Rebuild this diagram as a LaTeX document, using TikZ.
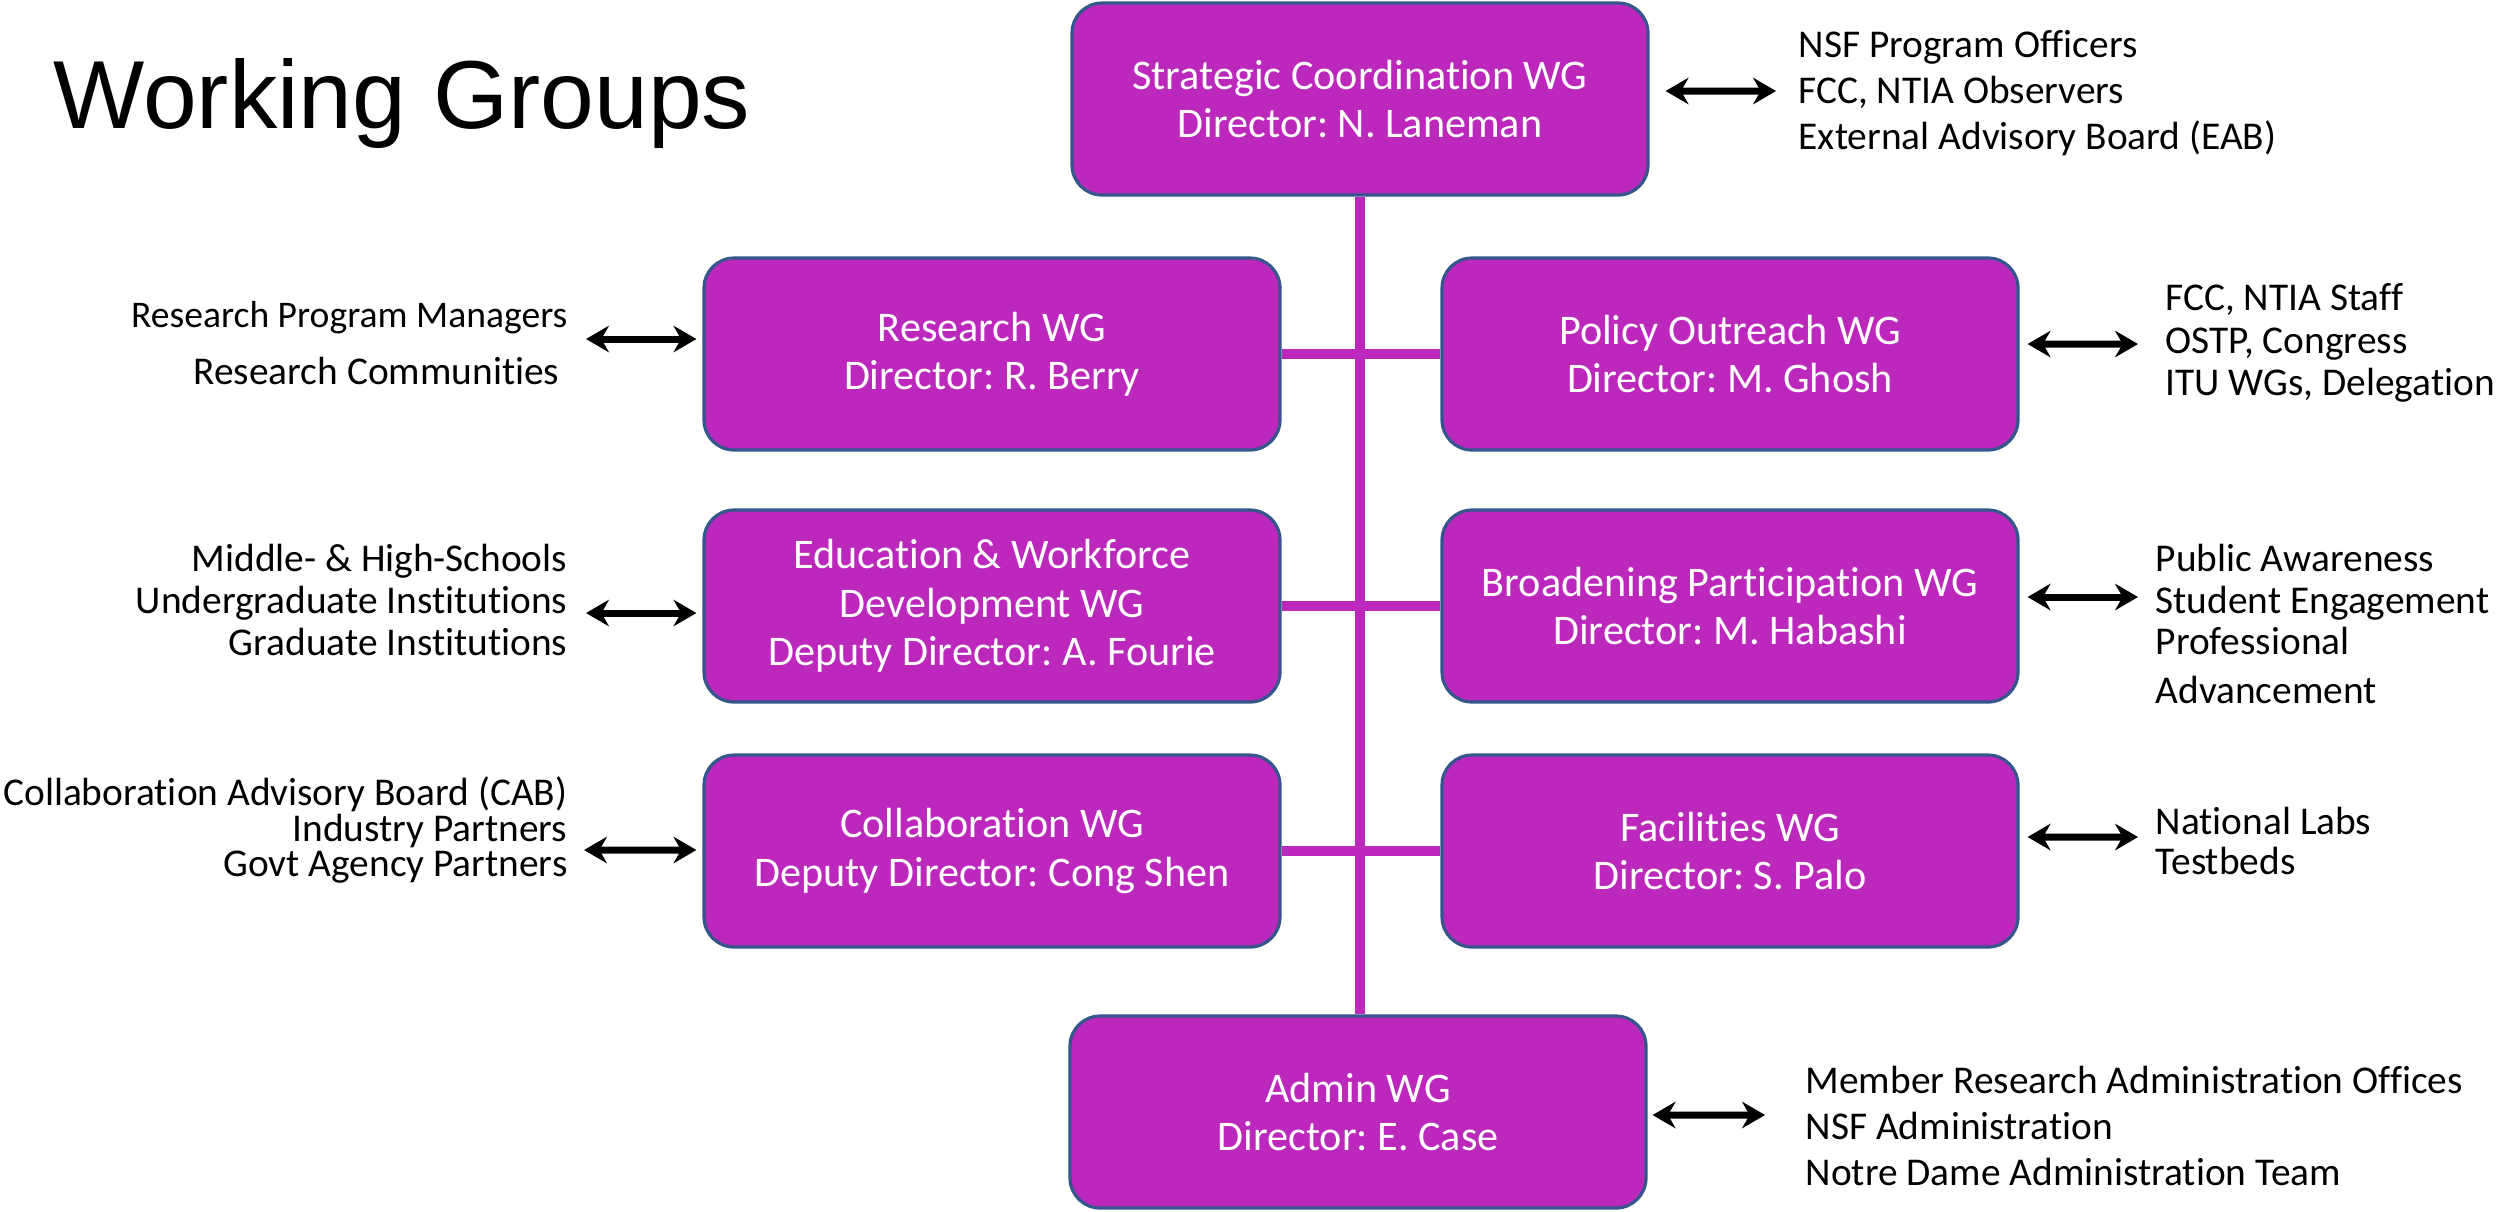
\documentclass[tikz,border=0pt]{standalone}
\usepackage{fontspec}
\setmainfont{Carlito}[Ligatures=NoCommon]
\newfontfamily\titlefont{Liberation Sans}
\usetikzlibrary{arrows.meta}
\definecolor{wgfill}{RGB}{188,40,188}
\definecolor{wgedge}{RGB}{52,86,140}
\frenchspacing

\begin{document}
\begin{tikzpicture}[
    >=Stealth,
    wg/.style={
        rectangle,
        rounded corners=0.3cm,
        draw=wgedge,
        line width=0.9pt,
        fill=wgfill,
        text=white,
        minimum width=5.76cm,
        minimum height=1.92cm,
        align=center,
        font=\fontsize{12}{13.8}\selectfont
    },
    info/.style={
        inner sep=0pt,
        font=\fontsize{11.2}{#1}\selectfont
    },
    link/.style={
        {Stealth[length=6.5pt,width=7.5pt]}-{Stealth[length=6.5pt,width=7.5pt]},
        line width=2pt,
        black
    },
    trunk/.style={
        line width=2.8pt,
        wgfill
    }
]

    \useasboundingbox (0,0) rectangle (25.09,-12.11);

    \node[
        anchor=base west,
        inner sep=0pt,
        font=\titlefont\fontsize{27.5}{33}\selectfont
    ] (title) at (0.53,-1.28) {Working Groups};

    \node[wg] (strat) at (13.60,-0.99) {Strategic Coordination WG\\Director: N. Laneman};
    \node[wg] (research) at (9.92,-3.54) {Research WG\\Director: R. Berry};
    \node[wg] (policy) at (17.30,-3.54) {Policy Outreach WG\\Director: M. Ghosh};
    \node[wg] (edu) at (9.92,-6.06) {Education \& Workforce\\Development WG\\Deputy Director: A. Fourie};
    \node[wg] (broad) at (17.30,-6.06) {Broadening Participation WG\\Director: M. Habashi};
    \node[wg] (collab) at (9.92,-8.51) {Collaboration WG\\Deputy Director: Cong Shen};
    \node[wg] (facil) at (17.30,-8.51) {Facilities WG\\Director: S. Palo};
    \node[wg] (admin) at (13.58,-11.12) {Admin WG\\Director: E. Case};

    \draw[trunk] (strat.south) -- (strat.south |- admin.north);
    \draw[trunk] (research.east) -- (policy.west);
    \draw[trunk] (edu.east) -- (broad.west);
    \draw[trunk] (collab.east) -- (facil.west);

    \node[info=13pt, anchor=west, align=left] (sinfo) at (17.98,-0.93)
        {NSF Program Officers\\FCC, NTIA Observers\\External Advisory Board (EAB)};
    \node[info=16pt, anchor=east, align=right] (rinfo) at (5.68,-3.43)
        {{\fontsize{10.7}{16}\selectfont Research Program Managers}\\Research Communities\hspace*{0.08cm}};
    \node[info=12pt, anchor=west, align=left] (pinfo) at (21.65,-3.43)
        {FCC, NTIA Staff\\OSTP, Congress\\ITU WGs, Delegation};
    \node[info=12pt, anchor=east, align=right] (einfo) at (5.68,-6.00)
        {Middle- \& High-Schools\\Undergraduate Institutions\\Graduate Institutions};
    \node[info=11.8pt, anchor=west, align=left] (binfo) at (21.55,-6.24)
        {Public Awareness\\Student Engagement\\Professional\\[2pt]Advancement};
    \node[info=10pt, anchor=east, align=right] (cinfo) at (5.68,-8.30)
        {Collaboration Advisory Board (CAB)\\Industry Partners\\Govt Agency Partners};
    \node[info=11.4pt, anchor=west, align=left] (finfo) at (21.55,-8.41)
        {National Labs\\Testbeds};
    \node[info=13pt, anchor=west, align=left] (ainfo) at (18.05,-11.26)
        {Member Research Administration Offices\\NSF Administration\\Notre Dame Administration Team};

    \draw[link] ([xshift=0.16cm,yshift=0.08cm]strat.east) -- ([xshift=-0.22cm,yshift=0.02cm]sinfo.west);
    \draw[link] ([xshift=0.18cm,yshift=0.04cm]rinfo.east) -- ([xshift=-0.06cm,yshift=0.15cm]research.west);
    \draw[link] ([xshift=0.08cm,yshift=0.10cm]policy.east) -- ([xshift=-0.27cm,yshift=-0.01cm]pinfo.west);
    \draw[link] ([xshift=0.18cm,yshift=-0.13cm]einfo.east) -- ([xshift=-0.06cm,yshift=-0.07cm]edu.west);
    \draw[link] ([xshift=0.08cm,yshift=0.09cm]broad.east) -- ([xshift=-0.17cm,yshift=0.27cm]binfo.west);
    \draw[link] ([xshift=0.16cm,yshift=-0.20cm]cinfo.east) -- ([xshift=-0.06cm,yshift=0.01cm]collab.west);
    \draw[link] ([xshift=0.08cm,yshift=0.14cm]facil.east) -- ([xshift=-0.17cm,yshift=0.04cm]finfo.west);
    \draw[link] ([xshift=0.05cm,yshift=-0.03cm]admin.east) -- ([xshift=-0.40cm,yshift=0.11cm]ainfo.west);

\end{tikzpicture}
\end{document}
